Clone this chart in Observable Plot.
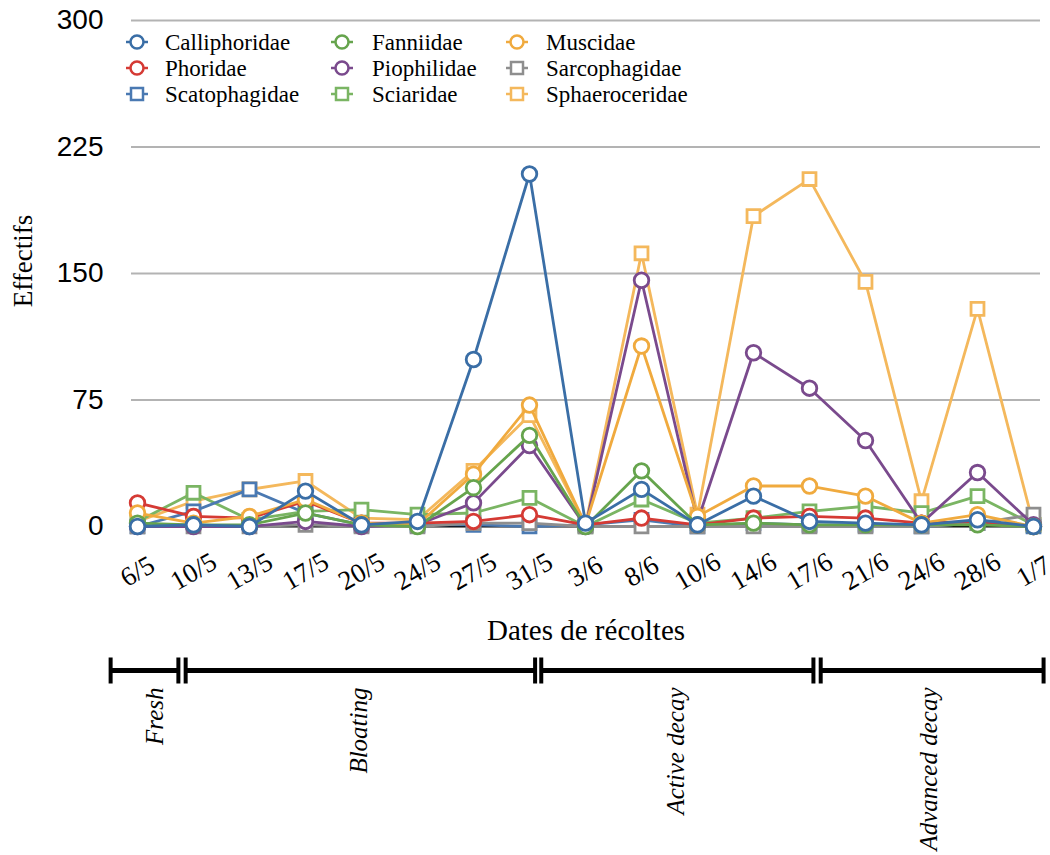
<!DOCTYPE html>
<html><head><meta charset="utf-8">
<script src="https://cdn.jsdelivr.net/npm/d3@7"></script>
<script src="https://cdn.jsdelivr.net/npm/@observablehq/plot@0.6"></script>
<style>
body{margin:0;background:#fff;}
#wrap{position:relative;width:1050px;height:855px;overflow:hidden;}
#legend{position:absolute;left:0;top:0;}
svg{display:block;}
</style></head><body><div id="wrap"></div>
<script>
const dates = ["6/5","10/5","13/5","17/5","20/5","24/5","27/5","31/5","3/6","8/6","10/6","14/6","17/6","21/6","24/6","28/6","1/7"];
const yTicks = [0, 75, 150, 225, 300];

const seriesNames = ["Calliphoridae","Fanniidae","Muscidae","Phoridae","Piophilidae","Sarcophagidae","Scatophagidae","Sciaridae","Sphaeroceridae"];
const seriesColors = ["#3a6ea6","#66a44d","#f0aa3e","#d53a34","#7a4a8d","#8e8e8e","#4a79b2","#7ab563","#f4b85c"];
const seriesSymbols = ["circle","circle","circle","circle","circle","square","square","square","square"];

const Calliphoridae = [0,1,0,21,1,3,99,209,2,22,1,18,3,2,1,4,0];
const Fanniidae = [2,1,1,8,1,0,23,54,0,33,1,2,1,1,1,1,0];
const Muscidae = [8,2,6,16,2,1,31,72,1,107,6,24,24,18,2,7,0];
const Phoridae = [14,6,5,15,2,2,3,7,1,5,1,5,6,5,2,3,0];
const Piophilidae = [0,0,0,3,0,1,14,48,0,146,3,103,82,51,2,32,1];
const Sarcophagidae = [0,0,0,1,0,0,2,2,0,0,0,0,0,0,0,2,7];
const Scatophagidae = [0,9,22,8,1,1,1,0,1,4,0,2,1,1,0,2,0];
const Sciaridae = [3,20,4,9,10,7,8,17,0,16,2,5,9,12,8,18,1];
const Sphaeroceridae = [3,15,22,27,5,4,33,66,1,162,7,184,206,145,15,129,1];
const seriesValues = [Calliphoridae,Fanniidae,Muscidae,Phoridae,Piophilidae,Sarcophagidae,Scatophagidae,Sciaridae,Sphaeroceridae];

const phaseNames = ["Fresh","Bloating","Active decay","Advanced decay"];
const phaseStart = [-0.48, 0.86, 7.21, 12.2];
const phaseEnd = [0.73, 7.1, 12.07, 16.18];
const phaseLabelAt = [0.32, 3.95, 9.61, 14.14];

const series = seriesNames.map((name, k) => ({
  name, color: seriesColors[k], symbol: seriesSymbols[k],
  data: seriesValues[k].map((v, i) => ({i, v}))
}));

const serif = "'Liberation Serif', 'Times New Roman', serif";
const sans = "'Liberation Sans', Arial, sans-serif";

const marks = [
  Plot.gridY(yTicks.filter(d => d > 0), {stroke: "#b3b3b3", strokeOpacity: 1, strokeWidth: 2}),
  Plot.ruleY([0], {stroke: "#000", strokeWidth: 2})
];
for (const s of [...series].reverse()) {
  marks.push(Plot.line(s.data, {x: "i", y: "v", stroke: s.color, strokeWidth: 2.8}));
  marks.push(Plot.dot(s.data, {x: "i", y: "v", symbol: s.symbol, r: 7.3, stroke: s.color, strokeWidth: 2.8, fill: "white"}));
}
marks.push(Plot.axisY({ticks: yTicks, tickSize: 0, tickPadding: 28, fontSize: 28, fontFamily: sans, label: null, fill: "#000"}));
marks.push(Plot.text(dates, {x: (d, i) => i, frameAnchor: "bottom", dy: 45, rotate: -30, textAnchor: "middle", lineAnchor: "middle", fontSize: 27, fontFamily: serif, fill: "#000"}));
marks.push(Plot.text(["Dates de récoltes"], {frameAnchor: "bottom", dy: 104, lineAnchor: "middle", fontSize: 29, fontFamily: serif, fill: "#000"}));
marks.push(Plot.text(["Effectifs"], {y: [130], frameAnchor: "left", dx: -108, rotate: -90, lineAnchor: "middle", fontSize: 27, fontFamily: serif, fill: "#000"}));

const main = Plot.plot({
  width: 1050, height: 650,
  marginTop: 20, marginBottom: 124, marginLeft: 131, marginRight: 10,
  x: {type: "linear", domain: [0, 16], range: [137, 1033], axis: null},
  y: {domain: [0, 300], axis: null},
  style: {background: "white", overflow: "visible"},
  marks
});

const phases = phaseNames.map((name, k) => ({name, start: phaseStart[k], end: phaseEnd[k], labelAt: phaseLabelAt[k]}));
const timeline = Plot.plot({
  width: 1050, height: 205,
  marginTop: 0, marginBottom: 0, marginLeft: 0, marginRight: 0,
  x: {type: "linear", domain: [0, 16], range: [137, 1033], axis: null},
  y: {domain: [-1, 1], range: [33, 7], axis: null},
  style: {background: "white", overflow: "visible"},
  marks: [
    Plot.link(phases, {x1: "start", x2: "end", y1: 0, y2: 0, stroke: "#000", strokeWidth: 5}),
    Plot.link(phases, {x1: "start", x2: "start", y1: -1, y2: 1, stroke: "#000", strokeWidth: 4}),
    Plot.link(phases, {x1: "end", x2: "end", y1: -1, y2: 1, stroke: "#000", strokeWidth: 4}),
    Plot.text(phases, {x: "labelAt", y: -1, dy: 4, text: "name", rotate: -90, textAnchor: "end", lineAnchor: "middle", fontSize: 25, fontStyle: "italic", fontFamily: serif, fill: "#000"})
  ]
});

const wrap = document.getElementById("wrap");
wrap.appendChild(main);
wrap.appendChild(timeline);

// Legend overlay
const colMarker = [137, 342, 517], colText = [165, 372, 546], rowY = [42, 68, 94];
const leg = d3.select(wrap).append("svg").attr("id", "legend").attr("width", 720).attr("height", 110);
series.forEach((s, k) => {
  const c = k % 3, r = Math.floor(k / 3);
  const g = leg.append("g").attr("transform", `translate(${colMarker[c]},${rowY[r]})`);
  g.append("line").attr("x1", -11).attr("x2", 11).attr("stroke", s.color).attr("stroke-width", 2.5);
  if (s.symbol === "circle") g.append("circle").attr("r", 6.5).attr("fill", "white").attr("stroke", s.color).attr("stroke-width", 2.5);
  else g.append("rect").attr("x", -6).attr("y", -6).attr("width", 12).attr("height", 12).attr("fill", "white").attr("stroke", s.color).attr("stroke-width", 2.5);
  leg.append("text").attr("x", colText[c]).attr("y", rowY[r]).attr("dy", "0.35em")
    .attr("font-family", serif).attr("font-size", 23).attr("fill", "#000").text(s.name);
});
</script></body></html>
